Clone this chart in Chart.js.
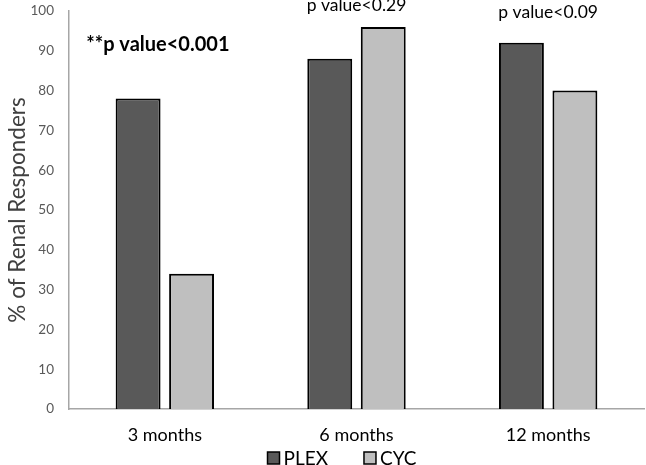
<!DOCTYPE html>
<html><head><meta charset="utf-8">
<script src="https://cdn.jsdelivr.net/npm/chart.js@4"></script>
<style>html,body{margin:0;padding:0;background:#fff}#wrap{width:646px;height:465px}</style>
</head><body><div id="wrap"><canvas id="c" width="646" height="465"></canvas></div>
<script>
const categories = ["3 months", "6 months", "12 months"];
const plexValues = [78, 88, 92];
const cycValues = [34, 96, 80];
const pLabels = ["**p value<0.001", "p value<0.29", "p value<0.09"];
const pLabelValues = [91.5, 101.5, 99.7];
const yTicks = [0,10,20,30,40,50,60,70,80,90,100];

const FONT = "Lato, 'Open Sans', sans-serif";

const annot = {
  id: 'annot',
  afterDatasetsDraw(chart) {
    const ctx = chart.ctx, xs = chart.scales.x, ys = chart.scales.y;
    ctx.save();
    ctx.textAlign = 'center'; ctx.textBaseline = 'middle';
    ctx.fillStyle = '#000';
    pLabels.forEach((t, i) => {
      ctx.font = (i === 0 ? 'bold 20px ' : '17.5px ') + FONT;
      ctx.fillText(t, xs.getPixelForValue(i) - (i === 0 ? 7 : 0), ys.getPixelForValue(pLabelValues[i]));
    });
    ctx.restore();
  }
};

const customLegend = {
  id: 'customLegend',
  afterDraw(chart) {
    const ctx = chart.ctx;
    const box = 12, gap = 4, spacing = 36, cy = 458, cx = 342;
    ctx.save();
    ctx.font = '19px ' + FONT;
    ctx.textBaseline = 'middle'; ctx.textAlign = 'left';
    const items = chart.data.datasets.map(d => ({ text: d.label, fill: d.backgroundColor, w: box + gap + ctx.measureText(d.label).width }));
    const total = items.reduce((s, it) => s + it.w, 0) + spacing * (items.length - 1);
    let x = cx - total / 2;
    items.forEach(it => {
      ctx.fillStyle = it.fill;
      ctx.fillRect(x, cy - box / 2, box, box);
      ctx.lineWidth = 1.5; ctx.strokeStyle = '#000';
      ctx.strokeRect(x, cy - box / 2, box, box);
      ctx.fillStyle = '#000';
      ctx.fillText(it.text, x + box + gap, cy + 1);
      x += it.w + spacing;
    });
    ctx.restore();
  }
};

new Chart(document.getElementById('c'), {
  type: 'bar',
  data: {
    labels: categories,
    datasets: [
      { label: 'PLEX', data: plexValues, backgroundColor: '#595959', borderColor: '#000', borderWidth: 2,
        categoryPercentage: 0.558, barPercentage: 0.84 },
      { label: 'CYC', data: cycValues, backgroundColor: '#bfbfbf', borderColor: '#000', borderWidth: 2,
        categoryPercentage: 0.558, barPercentage: 0.84 }
    ]
  },
  options: {
    responsive: false, animation: false, devicePixelRatio: 1,
    layout: { padding: { top: 11, right: 2, left: 0, bottom: 20 } },
    plugins: {
      legend: { display: false },
      tooltip: { enabled: false }
    },
    scales: {
      x: {
        grid: { display: false, drawTicks: false },
        border: { color: '#a6a6a6', width: 1.5 },
        ticks: { color: '#000', font: { family: FONT, size: 18 }, padding: 15 },
        afterFit(s) { s.height = 36; s.paddingLeft = 0; s.paddingRight = 0; }
      },
      y: {
        min: 0, max: 100,
        afterBuildTicks(ax) { ax.ticks = yTicks.map(v => ({ value: v })); },
        grid: { display: false, drawTicks: false },
        border: { color: '#a6a6a6', width: 1.5 },
        ticks: { color: '#595959', font: { family: FONT, size: 13.5 }, padding: 15 },
        title: { display: true, text: '% of Renal Responders', color: '#404040',
          font: { family: FONT, size: 22.5 }, padding: { top: 4, bottom: 0 } },
        afterFit(s) { s.width = 69; s.paddingTop = 0; s.paddingBottom = 0; }
      }
    }
  },
  plugins: [annot, customLegend]
});
</script></body></html>
